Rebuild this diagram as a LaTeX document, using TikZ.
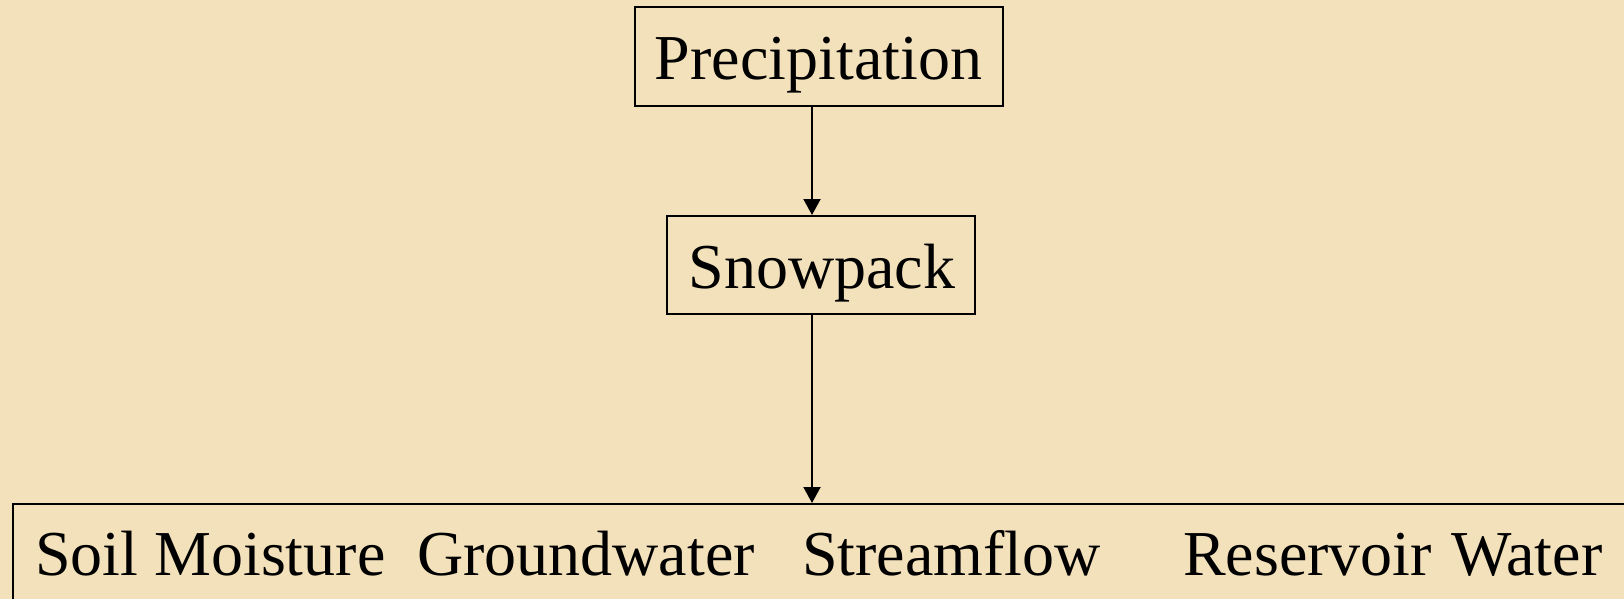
\documentclass[tikz,border=0pt]{standalone}
\usepackage{fontspec}
\setmainfont{Liberation Serif}
\usetikzlibrary{arrows.meta}
\definecolor{parch}{RGB}{242,225,186}
\tikzset{
  boxshape/.style={draw=black, line width=2pt, inner sep=0pt},
  lbl/.style={anchor=base, inner sep=0pt, font=\fontsize{64}{70}\selectfont},
  lblw/.style={lbl, anchor=base west},
  flow/.style={line width=2pt, -{Triangle[width=17pt,length=16pt]}}
}
\begin{document}
\begin{tikzpicture}[x=1pt,y=-1pt]
\useasboundingbox (0,0) rectangle (1624,599);
\fill[parch] (0,0) rectangle (1624,599);
\clip (0,0) rectangle (1624,599);
% boxes
\node[boxshape, minimum width=368pt, minimum height=99pt] (prec) at (819,56.5) {};
\node[lbl] (prectxt) at (818.5,80) {Precipitation};
\node[boxshape, minimum width=308pt, minimum height=98pt] (snow) at (821,265) {};
\node[lbl] (snowtxt) at (822,288) {Snowpack};
\node[boxshape, minimum width=1700pt, minimum height=200pt, anchor=north west] (pools) at (12,503) {};
\node[lblw] (soil) at (35,575) {Soil Moisture};
\node[lblw] (ground) at (417,575) {Groundwater};
\node[lblw] (stream) at (802,575) {Streamflow};
\node[lblw] (res) at (1183,575) {Reservoir\hspace{0.05em} Water};
% arrows
\coordinate (ax) at (812,0);
\draw[flow] (prec.south -| ax) -- (snow.north -| ax);
\draw[flow] (snow.south -| ax) -- (pools.north -| ax);
\end{tikzpicture}
\end{document}
